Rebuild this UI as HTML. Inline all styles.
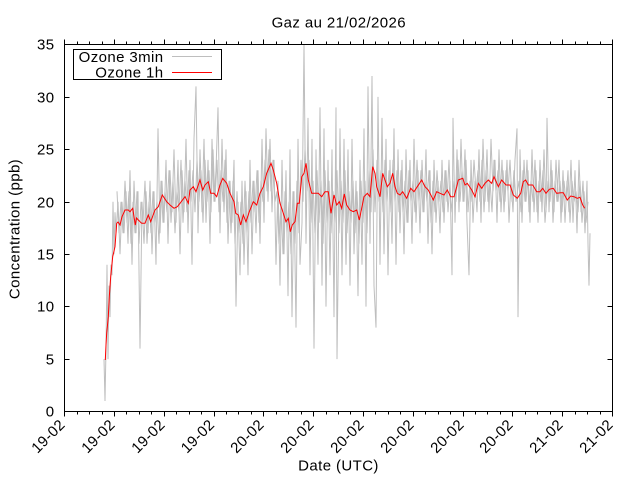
<!DOCTYPE html>
<html><head><meta charset="utf-8"><style>
html,body{margin:0;padding:0;background:#fff;}
svg{display:block;}
text{font-family:"Liberation Sans",Arial,sans-serif;font-size:15px;fill:#000;letter-spacing:0.4px;}
</style></head><body>
<svg width="640" height="480" viewBox="0 0 640 480" xmlns="http://www.w3.org/2000/svg">
<rect width="640" height="480" fill="#fff"/>
<!-- gray 3min series in data coords -->
<g transform="translate(0,411.5) scale(1,-10.486)" fill="none" stroke="#bebebe" stroke-width="1">
<polyline vector-effect="non-scaling-stroke" points="104,5 105,1 106,6 107,14 108,5 109,12 110,9 111,14 112,13 113,20 114,15 115,19 116,17 118,20 120,15 122,20 124,17 126,21 128,16 130,23 132,14 134,22 136,17 138,21 140,6 142,20 144,16 146,21 148,17 150,22 152,15 154,21 156,14 158,27 160,17 162,22 164,18 166,24 168,16 170,23 172,19 174,25 176,18 178,24 180,15 182,23 184,19 186,26 188,17 190,24 192,14 194,26 196,31 198,17 200,25 202,19 204,26 206,18 208,24 210,16 212,26 214,20 216,23 218,29 220,17 222,26 224,19 226,25 228,16 230,22 232,18 234,24 236,10 238,20 240,13 242,22 244,14 246,21 248,13 250,24 252,15 254,22 256,17 258,23 260,16 262,26 264,18 266,27 268,20 270,26 272,19 274,24 276,14 278,22 280,12 282,24 284,15 286,23 288,11 290,25 292,9 294,21 296,8 298,26 300,14 302,18 304,35 306,16 308,28 310,13 312,26 314,6 316,25 318,14 320,29 322,12 324,27 326,10 328,24 330,13 332,25 334,9 336,29 337,5 340,27 342,13 344,26 346,14 348,25 350,12 352,26 354,15 356,22 358,11 360,24 362,14 364,27 366,10 368,31 370,16 372,32 374,12 376,8 378,30 380,14 382,28 384,15 386,26 388,13 390,24 392,16 394,27 396,14 398,25 400,17 402,24 404,15 406,25 408,18 410,24 412,16 414,26 416,18 418,23 420,17 422,24 424,19 426,25 428,16 430,23 432,15 434,24 436,18 438,22 440,17 442,24 444,18 446,23 448,19 450,22 452,13 453,28 455,18 457,25 459,19 461,26 463,20 465,25 467,18 469,13 471,24 473,18 475,22 477,19 479,25 481,18 483,26 485,20 487,25 489,19 491,26 493,21 495,24 497,18 499,25 501,19 503,23 505,20 507,24 509,18 511,22 513,19 515,24 517,27 518,9 520,25 522,18 524,24 526,20 528,23 530,18 532,25 534,19 536,23 538,18 540,24 542,19 544,25 546,19 547,28 549,19 551,24 553,18 555,22 557,20 559,24 561,18 563,23 565,18 567,22 569,19 571,24 573,18 575,23 577,17 579,24 581,19 583,22 585,17 587,22 588,16 589,12 590,17"/>
<polyline vector-effect="non-scaling-stroke" points="117,21 119,17 121,20 123,17 125,22 127,18 129,21 131,16 133,20 135,17 137,21 139,16 141,20 143,18 145,22 147,16 149,20 151,17 153,21 155,18 157,20 159,16 161,22 163,18 165,21 167,19 169,23 171,18 173,22 175,17 177,21 179,19 181,24 183,18 185,22 187,19 189,23 191,20 193,23 195,19 197,24 199,20 201,23 203,18 205,24 207,20 209,23 211,19 213,25 215,20 217,24 219,19 221,23 223,20 225,24 227,18 229,22 231,17 233,22 235,16 237,21 239,17 241,20 243,16 245,22 247,17 249,21 251,18 253,22 255,19 257,23 259,18 261,22 263,20 265,24 267,21 269,25 271,21 273,24 275,20 277,21 279,16 281,20 283,15 285,21 287,17 289,20 291,15 293,21 295,16 297,22 299,17 301,24 303,20 305,25 307,21 309,24 311,18 313,22 315,17 317,23 319,18 321,22 323,16 325,23 327,18 329,22 331,17 333,21 335,18 337,23 339,17 341,22 343,18 345,23 347,17 349,21 351,18 353,22 355,17 357,21 359,16 361,22 363,18 365,22 367,17 369,23 371,19 373,25 375,19 377,24 379,20 381,23 383,19 385,24 387,20 389,23 391,19 393,24 395,20 397,23 399,19 401,23 403,19 405,22 407,18 409,23 411,20 413,22 415,19 417,24 419,20 421,23 423,19 425,22 427,20 429,23 431,18 433,22 435,19 437,23 439,20 441,22 443,19 445,23 447,20 449,24 451,19 454,22 456,20 458,24 460,20 462,23 464,20 466,24 468,19 470,22 472,20 474,24 476,21 478,23 480,20 482,24 484,19 486,23 488,20 490,22 492,19 494,24 496,21 498,23 500,20 502,24 504,19 506,23 508,21 510,24 512,20 514,23 516,20 519,22 521,19 523,23 525,20 527,24 529,19 531,22 533,20 535,24 537,19 539,22 541,20 543,23 545,18 548,22 550,20 552,23 554,19 556,24 558,20 560,22 562,19 564,22 566,20 568,23 570,18 572,22 574,20 576,21 578,19 580,22 582,18 584,21 586,18 588,20"/>
</g>
<!-- red 1h series -->
<polyline fill="none" stroke="#ff0000" stroke-width="1" points="105.3,360 106,345 106.7,333 107.5,325 108.3,316.7 109.3,296.7 110.7,276.7 112.7,256.7 115,246.7 116.7,223.3 118,222 120,225 122,216.7 125,210 128.3,210 130,211.7 132.7,208.3 135.3,225 136.5,218 138.3,220 141.7,223.3 145,223.3 148.3,215 150.7,221.7 155,210 158.3,206.7 162.3,195 166.7,201.7 170,205 174,208.3 177.3,206.7 180,203.3 185,196.7 188.3,203.3 190,190 193.3,186.7 196,191.7 200,180 202.7,190 205,185 208.3,181.7 210.7,193.3 214,193.3 216.7,196.7 220,185 222.7,178.3 226.7,183.3 230,193.3 234,201.7 235.7,213.3 238.3,215 240.7,225 243.3,215 246,221.7 249.3,211.7 253.3,201.7 256.7,205 260,193.3 263.3,186.7 266.7,173.3 271,163.3 273.3,170 276.7,183.3 280,203.3 283.3,213.3 286,221.7 288.3,218.3 290.3,231.7 292.3,225 295,221.7 297.3,203.3 299.3,203.3 301.7,176.7 304,173.3 306,163.3 308.3,180 311.7,193.3 315,193.3 318.3,193.3 321.7,196.7 325,191.7 328.3,191.7 331,213.3 334,195 336.7,205 339.3,201.7 341.7,208.3 344.3,194 346.7,205 350,210 353.3,211.7 356.7,210 359.3,220 361.7,208.3 364,196.7 367.3,193.3 370,196.7 372.7,166.7 375,173.3 376.7,186.7 380,196.7 382.7,173.3 385,180 387.3,186.7 390,183.3 392.7,173.3 395,186.7 397.3,193.3 400,195 402.7,191.7 406.7,198.3 410.7,188.3 414,191.7 417.3,186.7 421.7,180 425,186.7 428.3,190 431.7,196.7 433.3,200 436.7,191.7 440,193.3 444,195 447.3,190 450.7,196.7 454,196.7 456.7,186.7 458.3,180 462.7,178.3 465,185 467.3,183.3 471.7,190 475,196.7 478.3,183.3 481.7,188.3 485,183.3 488.3,180 491.7,183.3 494,176.7 498.3,186.7 501.7,180 506,185 510,185 513.3,195 517.3,198.3 520.7,193.3 523.3,181.7 525.7,180 528.3,185 532.7,185 536.7,191.7 540,191.7 542.7,188.3 546,193.3 549.3,189.3 553.3,188.3 556.7,193.3 560.7,192.7 563.3,192.7 567.3,200 570.7,196 574,196.7 577.3,198.3 580,197.3 582.7,205 584.7,208.3"/>
<!-- border -->
<rect x="64.5" y="44.5" width="548" height="367" fill="none" stroke="#000" stroke-width="1"/>
<!-- x ticks major (outward, mirrored) -->
<path stroke="#000" stroke-width="1" fill="none" d="M64.5 411.5v5M114.5 411.5v5M164.5 411.5v5M214.5 411.5v5M263.5 411.5v5M313.5 411.5v5M363.5 411.5v5M413.5 411.5v5M463.5 411.5v5M512.5 411.5v5M562.5 411.5v5M612.5 411.5v5
M64.5 44.5v-5M114.5 44.5v-5M164.5 44.5v-5M214.5 44.5v-5M263.5 44.5v-5M313.5 44.5v-5M363.5 44.5v-5M413.5 44.5v-5M463.5 44.5v-5M512.5 44.5v-5M562.5 44.5v-5M612.5 44.5v-5"/>
<!-- x ticks minor -->
<path stroke="#000" stroke-width="1" fill="none" d="M77.5 411.5v3M89.5 411.5v3M102.5 411.5v3M126.5 411.5v3M139.5 411.5v3M151.5 411.5v3M176.5 411.5v3M189.5 411.5v3M201.5 411.5v3M226.5 411.5v3M238.5 411.5v3M251.5 411.5v3M276.5 411.5v3M288.5 411.5v3M301.5 411.5v3M326.5 411.5v3M338.5 411.5v3M350.5 411.5v3M375.5 411.5v3M388.5 411.5v3M400.5 411.5v3M425.5 411.5v3M438.5 411.5v3M450.5 411.5v3M475.5 411.5v3M487.5 411.5v3M500.5 411.5v3M525.5 411.5v3M537.5 411.5v3M550.5 411.5v3M575.5 411.5v3M587.5 411.5v3M600.5 411.5v3
M77.5 44.5v-3M89.5 44.5v-3M102.5 44.5v-3M126.5 44.5v-3M139.5 44.5v-3M151.5 44.5v-3M176.5 44.5v-3M189.5 44.5v-3M201.5 44.5v-3M226.5 44.5v-3M238.5 44.5v-3M251.5 44.5v-3M276.5 44.5v-3M288.5 44.5v-3M301.5 44.5v-3M326.5 44.5v-3M338.5 44.5v-3M350.5 44.5v-3M375.5 44.5v-3M388.5 44.5v-3M400.5 44.5v-3M425.5 44.5v-3M438.5 44.5v-3M450.5 44.5v-3M475.5 44.5v-3M487.5 44.5v-3M500.5 44.5v-3M525.5 44.5v-3M537.5 44.5v-3M550.5 44.5v-3M575.5 44.5v-3M587.5 44.5v-3M600.5 44.5v-3"/>
<!-- y ticks inward -->
<path stroke="#000" stroke-width="1" fill="none" d="M64.5 359.5h5M64.5 306.5h5M64.5 254.5h5M64.5 202.5h5M64.5 149.5h5M64.5 97.5h5
M612.5 359.5h-5M612.5 306.5h-5M612.5 254.5h-5M612.5 202.5h-5M612.5 149.5h-5M612.5 97.5h-5"/>
<!-- y tick labels -->
<g text-anchor="end">
<text x="54.5" y="416.5">0</text>
<text x="54.5" y="364.5">5</text>
<text x="54.5" y="311.5">10</text>
<text x="54.5" y="259.5">15</text>
<text x="54.5" y="207.5">20</text>
<text x="54.5" y="154.5">25</text>
<text x="54.5" y="102.5">30</text>
<text x="54.5" y="49.5">35</text>
</g>
<!-- x tick labels -->
<g text-anchor="end">
<text transform="translate(66,425.5) rotate(-45)">19-02</text>
<text transform="translate(116,425.5) rotate(-45)">19-02</text>
<text transform="translate(166,425.5) rotate(-45)">19-02</text>
<text transform="translate(215.5,425.5) rotate(-45)">19-02</text>
<text transform="translate(265,425.5) rotate(-45)">20-02</text>
<text transform="translate(315,425.5) rotate(-45)">20-02</text>
<text transform="translate(365,425.5) rotate(-45)">20-02</text>
<text transform="translate(415,425.5) rotate(-45)">20-02</text>
<text transform="translate(465,425.5) rotate(-45)">20-02</text>
<text transform="translate(514,425.5) rotate(-45)">20-02</text>
<text transform="translate(564,425.5) rotate(-45)">21-02</text>
<text transform="translate(614,425.5) rotate(-45)">21-02</text>
</g>
<!-- titles -->
<text x="338.8" y="27.5" text-anchor="middle">Gaz au 21/02/2026</text>
<text x="338.5" y="470.5" text-anchor="middle">Date (UTC)</text>
<text transform="translate(19.5,229) rotate(-90)" text-anchor="middle">Concentration (ppb)</text>
<!-- legend -->
<rect x="73.5" y="49.5" width="148" height="30" fill="#fff" stroke="#000" stroke-width="1"/>
<text x="163.5" y="62" text-anchor="end">Ozone 3min</text>
<text x="163.5" y="77.6" text-anchor="end">Ozone 1h</text>
<line x1="172" y1="56.5" x2="212" y2="56.5" stroke="#bebebe" stroke-width="1"/>
<line x1="172" y1="72.5" x2="212" y2="72.5" stroke="#ff0000" stroke-width="1"/>
</svg>
</body></html>
